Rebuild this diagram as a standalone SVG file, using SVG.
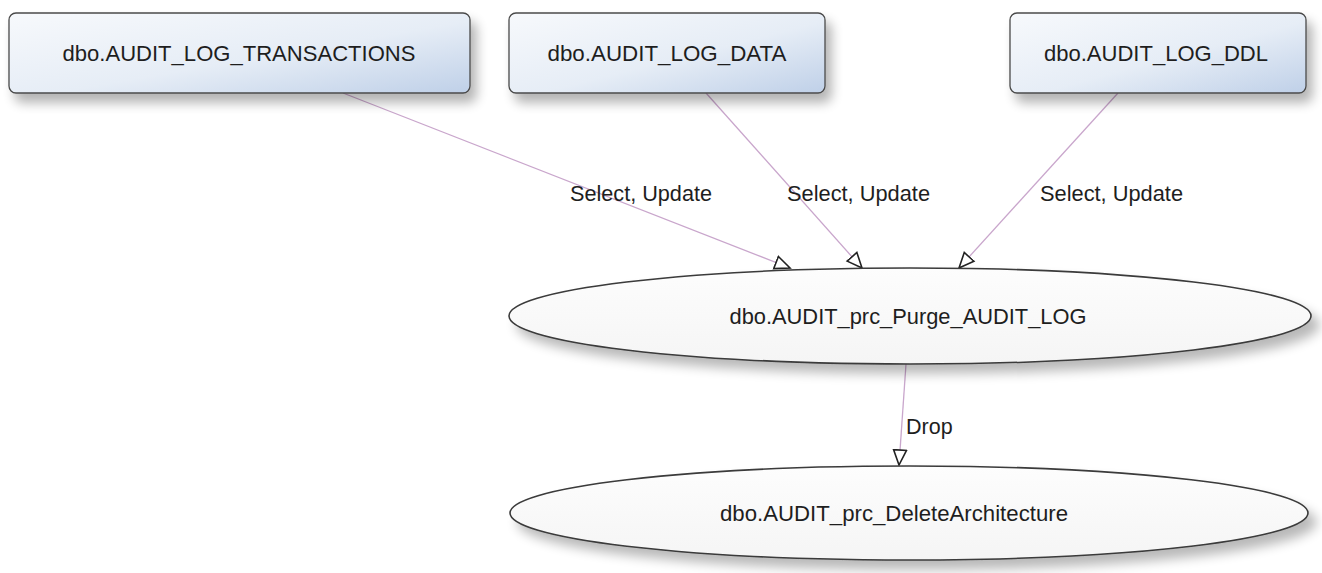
<svg xmlns="http://www.w3.org/2000/svg" width="1322" height="573" viewBox="0 0 1322 573">
<style>
.box{fill:url(#boxg);stroke:#4a4a4a;stroke-width:1.3;filter:url(#sh)}
.ell{fill:url(#ellg);stroke:#3a3a3a;stroke-width:1.6;filter:url(#sh2)}
.t{font-family:"Liberation Sans",Arial,sans-serif;font-size:21.5px;fill:#1e1e1e;text-anchor:middle}
.lbl{font-family:"Liberation Sans",Arial,sans-serif;font-size:21.5px;fill:#1e1e1e}
.edge{stroke:#c9a6cc;stroke-width:1.3;fill:none;marker-end:url(#arr)}
</style>
<defs>
<linearGradient id="boxg" x1="0" y1="0" x2="1" y2="1">
<stop offset="0" stop-color="#f7f9fc"/>
<stop offset="0.55" stop-color="#e6edf6"/>
<stop offset="1" stop-color="#bfd0e8"/>
</linearGradient>
<linearGradient id="ellg" x1="0" y1="0" x2="0" y2="1">
<stop offset="0" stop-color="#fdfdfd"/>
<stop offset="1" stop-color="#f5f5f5"/>
</linearGradient>
<filter id="sh" x="-10%" y="-20%" width="125%" height="170%">
<feGaussianBlur in="SourceAlpha" stdDeviation="6"/>
<feOffset dx="6" dy="9" result="b"/>
<feComponentTransfer><feFuncA type="linear" slope="0.3"/></feComponentTransfer>
<feMerge><feMergeNode/><feMergeNode in="SourceGraphic"/></feMerge>
</filter>
<filter id="sh2" x="-10%" y="-30%" width="125%" height="180%">
<feGaussianBlur in="SourceAlpha" stdDeviation="6"/>
<feOffset dx="8" dy="9" result="b"/>
<feComponentTransfer><feFuncA type="linear" slope="0.28"/></feComponentTransfer>
<feMerge><feMergeNode/><feMergeNode in="SourceGraphic"/></feMerge>
</filter>
<marker id="arr" markerUnits="userSpaceOnUse" markerWidth="20" markerHeight="16" viewBox="0 0 20 16" refX="16" refY="8" orient="auto">
<path d="M1,1.5 L16,8 L1,14.5 Z" fill="#ffffff" stroke="#222" stroke-width="1.6" stroke-linejoin="miter"/>
</marker>
</defs>
<g id="connectors">
<line class="edge" x1="343" y1="93" x2="790" y2="268"/>
<line class="edge" x1="706" y1="93" x2="862" y2="268"/>
<line class="edge" x1="1118" y1="93" x2="959" y2="268"/>
<line class="edge" x1="906" y1="364" x2="899" y2="465"/>
<text class="lbl" x="570" y="201" textLength="142" lengthAdjust="spacingAndGlyphs">Select, Update</text>
<text class="lbl" x="787" y="201" textLength="143" lengthAdjust="spacingAndGlyphs">Select, Update</text>
<text class="lbl" x="1040" y="201" textLength="143" lengthAdjust="spacingAndGlyphs">Select, Update</text>
<text class="lbl" x="906" y="434">Drop</text>
</g>
<g id="node-transactions">
<rect class="box" x="9" y="13" width="461" height="80" rx="7"/>
<text class="t" x="239" y="61" textLength="353" lengthAdjust="spacingAndGlyphs">dbo.AUDIT_LOG_TRANSACTIONS</text>
</g>
<g id="node-data">
<rect class="box" x="509" y="13" width="316" height="80" rx="7"/>
<text class="t" x="667" y="61" textLength="239" lengthAdjust="spacingAndGlyphs">dbo.AUDIT_LOG_DATA</text>
</g>
<g id="node-ddl">
<rect class="box" x="1010" y="13" width="296" height="80" rx="7"/>
<text class="t" x="1156" y="61" textLength="224" lengthAdjust="spacingAndGlyphs">dbo.AUDIT_LOG_DDL</text>
</g>
<g id="node-purge">
<ellipse class="ell" cx="910" cy="316" rx="401" ry="48"/>
<text class="t" x="908" y="324" textLength="357" lengthAdjust="spacingAndGlyphs">dbo.AUDIT_prc_Purge_AUDIT_LOG</text>
</g>
<g id="node-delete">
<ellipse class="ell" cx="909" cy="513" rx="399" ry="47"/>
<text class="t" x="894" y="521" textLength="348" lengthAdjust="spacingAndGlyphs">dbo.AUDIT_prc_DeleteArchitecture</text>
</g>
</svg>
